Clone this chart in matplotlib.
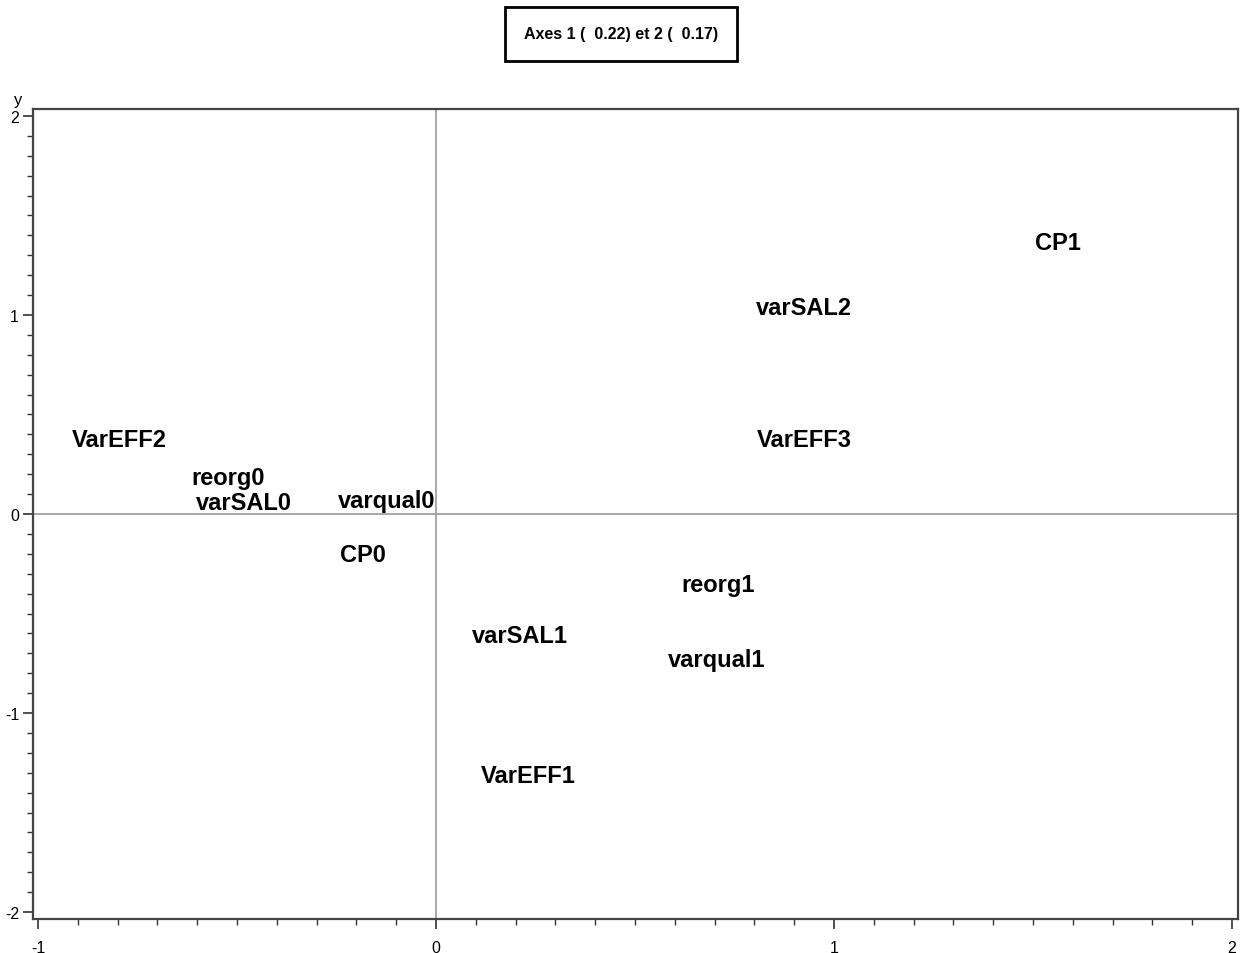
import matplotlib
matplotlib.use("Agg")
import matplotlib.pyplot as plt
from matplotlib.ticker import MultipleLocator

labels = ["CP1", "varSAL2", "VarEFF3", "VarEFF2", "reorg0", "varSAL0",
          "varqual0", "CP0", "reorg1", "varSAL1", "varqual1", "VarEFF1"]
x_vals = [1.563, 0.925, 0.925, -0.796, -0.523, -0.482,
          -0.123, -0.183, 0.709, 0.211, 0.704, 0.231]
y_vals = [1.362, 1.040, 0.372, 0.372, 0.181, 0.060,
          0.070, -0.206, -0.352, -0.608, -0.729, -1.312]
x_ticks = [-1, 0, 1, 2]
y_ticks = [-2, -1, 0, 1, 2]
title = "Axes 1 (  0.22) et 2 (  0.17)"

plt.rcParams['font.family'] = ['Liberation Sans', 'DejaVu Sans']

fig = plt.figure(figsize=(12.42, 9.54), dpi=100)
ax = fig.add_axes([33/1242, 1-920/954, (1238-33)/1242, (920-110)/954])
ax.set_xlim(-1.0126, 2.015)
ax.set_ylim(-2.035, 2.035)

ax.axhline(0, color='#9a9a9a', lw=1.2, zorder=1)
ax.axvline(0, color='#9a9a9a', lw=1.2, zorder=1)

for lab, xv, yv in zip(labels, x_vals, y_vals):
    ax.text(xv, yv, lab, ha='center', va='center', fontsize=17,
            fontweight='bold', color='black', zorder=3)

ax.set_xticks(x_ticks)
ax.set_xticklabels([str(t) for t in x_ticks])
ax.set_yticks(y_ticks)
ax.set_yticklabels([str(t) for t in y_ticks])
ax.xaxis.set_minor_locator(MultipleLocator(0.1))
ax.yaxis.set_minor_locator(MultipleLocator(0.1))
ax.tick_params(which='major', length=7, width=1.2, color='#333333',
               labelsize=11.5, pad=3)
ax.tick_params(axis='x', which='major', pad=8)
ax.tick_params(which='minor', length=4, width=1.0, color='#333333')
for s in ax.spines.values():
    s.set_color('#444444')
    s.set_linewidth(1.6)

fig.text(18/1242, 1-100/954, "y", ha='center', va='center', fontsize=12)

fig.text(621/1242, 1-35/954, title, ha='center', va='center', fontsize=11.5,
         fontweight='bold',
         bbox=dict(boxstyle='square,pad=1.2', facecolor='white',
                   edgecolor='black', linewidth=2))

fig.savefig("out.png", dpi=100)
